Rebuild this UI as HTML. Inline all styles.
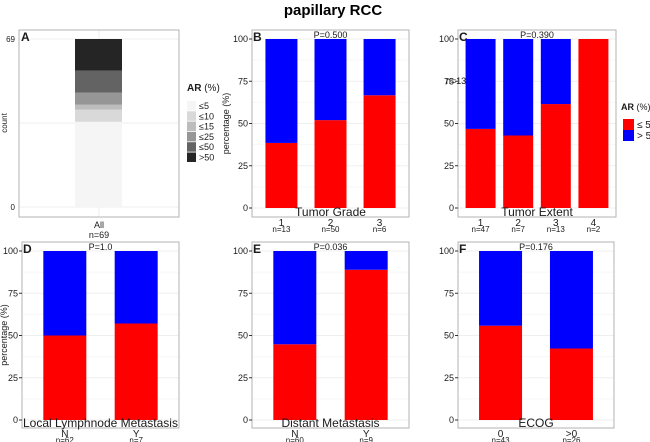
<!DOCTYPE html>
<html><head><meta charset="utf-8"><style>
body{margin:0;background:#fff}
svg{display:block;font-family:"Liberation Sans",sans-serif}
</style></head><body>
<svg id="chart" width="650" height="442" viewBox="0 0 650 442">
<text x="333" y="15" text-anchor="middle" font-size="15" font-weight="bold">papillary RCC</text>
</svg>
<script>
// Panel A: stacked count
const aCategories = ["≤5","≤10","≤15","≤25","≤50",">50"];
const aCounts = [35,5,2,5,9,13];
const aColors = ["#f5f5f5","#d9d9d9","#bdbdbd","#969696","#636363","#252525"];
// Panels B-F: percentage red (≤5)
const bCats = ["1","2","3"], bN = ["n=13","n=50","n=6"], bRed = [38.5,52,66.7];
const cCats = ["1","2","3","4"], cN = ["n=47","n=7","n=13","n=2"], cRed = [46.8,42.9,61.5,100];
const dCats = ["N","Y"], dN = ["n=62","n=7"], dRed = [50,57.1];
const eCats = ["N","Y"], eN = ["n=60","n=9"], eRed = [44.8,88.9];
const fCats = ["0",">0"], fN = ["n=43","n=26"], fRed = [55.8,42.3];
const pctTicks = [0,25,50,75,100];

const svg = document.getElementById('chart');
const NS = 'http://www.w3.org/2000/svg';
function mk(tag, attrs, parent){const e=document.createElementNS(NS,tag);for(const k in attrs)e.setAttribute(k,attrs[k]);(parent||svg).appendChild(e);return e;}
function txt(x,y,s,size,anchor,parent){const t=mk('text',{x:x,y:y,'font-size':size,'text-anchor':anchor||'middle',fill:'#1a1a1a'},parent);t.textContent=s;return t;}

function frame(L,T,R,B,y0,y100,label,g){
  for(let i=0;i<=8;i++){const y=y0+(y100-y0)*i/8;
    const gl=mk('line',{x1:L,x2:R,y1:y,y2:y,stroke:i%2?'#f7f7f7':'#efefef','stroke-width':1},g);
    }
  const box=mk('rect',{x:L,y:T,width:R-L,height:B-T,fill:'none',stroke:'#b3b3b3','stroke-width':1},g);
  
  const pl=txt(L+1,T+11,label,12,'start',g);pl.setAttribute('font-weight','bold');
  
}

function pctPanel(id,L,T,R,B,y0,y100,cats,ns,red,barW,pText,xTitle,yTitleX){
  const g=mk('g',{});
  const ys=v=>y0+(y100-y0)*v/100;
  frame(L,T,R,B,y0,y100,id.toUpperCase(),g);
  pctTicks.forEach(v=>{const t=txt(L-4,ys(v)+3,String(v),9,'end',g);
    mk('line',{x1:L-3,x2:L,y1:ys(v),y2:ys(v),stroke:'#333'},g);});
  const unit=(R-L)/(cats.length-1+1.2);
  cats.forEach((c,i)=>{
    const cx=L+unit*(i+0.6);
    const r=mk('rect',{x:cx-barW/2,y:ys(red[i]),width:barW,height:ys(0)-ys(red[i]),fill:'#ff0000'},g);
    
    const b=mk('rect',{x:cx-barW/2,y:ys(100),width:barW,height:ys(red[i])-ys(100),fill:'#0000ff'},g);
    
    const t1=txt(cx,B+9,c,10,'middle',g);
    const t2=txt(cx,B+15,ns[i],8,'middle',g);
  });
  const p=txt((L+R)/2,T+8,pText,9,'middle',g);
  const xt=txt((L+R)/2,B-1,xTitle,12,'middle',g);
  if(yTitleX!==null){const yt=txt(0,0,'percentage (%)',9,'middle',g);yt.setAttribute('transform','translate('+yTitleX+','+((T+B)/2)+') rotate(-90)');
    }
  return g;
}

// Panel A
(function(){
  const g=mk('g',{});
  const L=19,T=30,R=179,B=217,y0=207,yTop=39,maxC=69;
  const ys=v=>y0+(yTop-y0)*v/maxC;
  [0,maxC/2,maxC].forEach(v=>{const gl=mk('line',{x1:L,x2:R,y1:ys(v),y2:ys(v),stroke:'#efefef'},g);});
  mk('line',{x1:99,x2:99,y1:T,y2:B,stroke:'#efefef'},g);
  let cum=0;
  aCounts.forEach((c,i)=>{
    const r=mk('rect',{x:75,y:ys(cum+c),width:47,height:ys(cum)-ys(cum+c),fill:aColors[i]},g);
    cum+=c;});
  const box=mk('rect',{x:L,y:T,width:R-L,height:B-T,fill:'none',stroke:'#b3b3b3'},g);
  
  const pl=txt(L+2,T+11,'A',12,'start',g);pl.setAttribute('font-weight','bold');
  [0,maxC].forEach(v=>{const t=txt(L-4,ys(v)+3,String(v),8,'end',g);});
  const yt=txt(0,0,'count',8,'middle',g);yt.setAttribute('transform','translate(7,123) rotate(-90)');
  const x1=txt(99,228,'All',9,'middle',g);
  const x2=txt(99,238,'n=69',9,'middle',g);
  const lt=txt(187,91,'',10,'start',g);lt.innerHTML='<tspan font-weight="bold">AR</tspan> (%)';
  
  aCategories.forEach((c,i)=>{const y=101+i*10.3;
    const s=mk('rect',{x:187,y:y,width:9,height:9.5,fill:aColors[i]},g);
    const t=txt(199,y+8,c,9,'start',g);});
})();

pctPanel('b',252,30,409,217,208,39,bCats,bN,bRed,32,'P=0.500','Tumor Grade',229);
pctPanel('c',458,30,616,217,208,39,cCats,cN,cRed,30,'P=0.390','Tumor Extent',null);
const stray=txt(456,84,'n=13',9,'middle');
pctPanel('d',22,242,179,428,420,251,dCats,dN,dRed,43,'P=1.0','Local Lymphnode Metastasis',7);
pctPanel('e',252,242,409,428,420,251,eCats,eN,eRed,43,'P=0.036','Distant Metastasis',null);
pctPanel('f',458,242,614,428,420,251,fCats,fN,fRed,43,'P=0.176','ECOG',null);

// Legend for C
(function(){
  const g=mk('g',{});
  const lt=txt(621,110,'',9,'start',g);lt.innerHTML='<tspan font-weight="bold">AR</tspan> (%)';
  
  [['#ff0000','≤ 5'],['#0000ff','> 5']].forEach((e,i)=>{const y=119+i*11;
    const s=mk('rect',{x:623,y:y,width:11,height:11,fill:e[0]},g);
    const t=txt(637,y+9,e[1],10,'start',g);});
})();
</script>
</body></html>
